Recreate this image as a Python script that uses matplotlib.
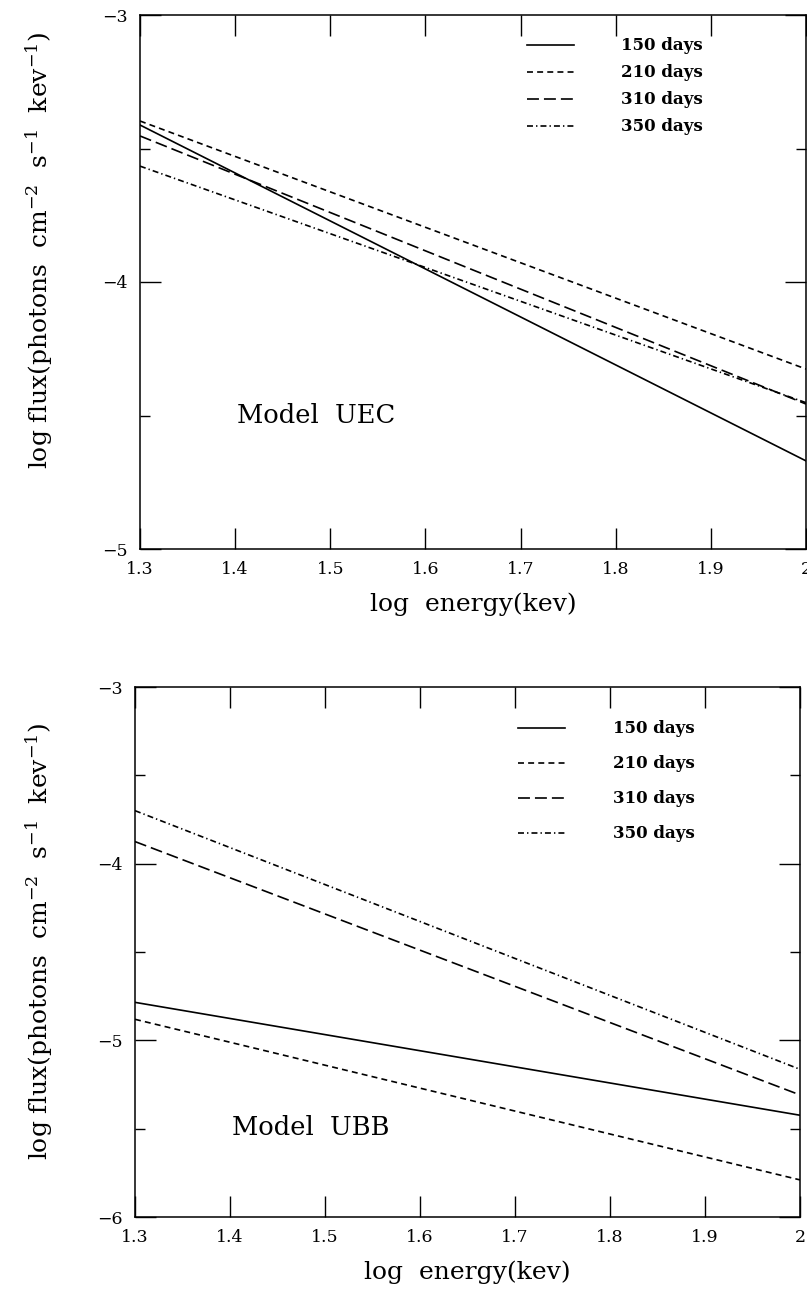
import matplotlib
matplotlib.use("Agg")
import matplotlib.pyplot as plt
from matplotlib.ticker import MultipleLocator, FixedLocator

plt.rcParams['font.family'] = ['DejaVu Serif']
plt.rcParams['mathtext.fontset'] = 'dejavuserif'
plt.rcParams['lines.scale_dashes'] = False
plt.rcParams['axes.unicode_minus'] = True

# data: end points of each spectrum (log E, log flux)
log_e = [1.3, 2.0]
days = ['150 days', '210 days', '310 days', '350 days']

uec_150 = [-3.412, -4.670]
uec_210 = [-3.397, -4.326]
uec_310 = [-3.453, -4.457]
uec_350 = [-3.566, -4.452]

ubb_150 = [-4.785, -5.424]
ubb_210 = [-4.881, -5.790]
ubb_310 = [-3.875, -5.309]
ubb_350 = [-3.700, -5.164]

x_ticks = [1.3, 1.4, 1.5, 1.6, 1.7, 1.8, 1.9, 2.0]
x_labels = ['1.3', '1.4', '1.5', '1.6', '1.7', '1.8', '1.9', '2']

styles = ['-', (0, (4.3, 3.0)), (0, (8.6, 3.6)), (0, (4.3, 2.2, 1.0, 2.2))]

W, H = 807, 1289
fig = plt.figure(figsize=(W / 100, H / 100), dpi=100)
ax1 = fig.add_axes([140 / W, 1 - 549 / H, 666 / W, 534 / H])
ax2 = fig.add_axes([135 / W, 1 - 1217 / H, 665 / W, 530 / H])


def setup(ax, ylo, yhi, model, model_y, series, leg_anchor, leg_space, ylab_pos):
    for ys, ls, lab in zip(series, styles, days):
        ax.plot(log_e, ys, color='black', lw=1.2, linestyle=ls, label=lab)
    ax.set_xlim(1.3, 2.0)
    ax.set_ylim(ylo, yhi)
    ax.xaxis.set_major_locator(FixedLocator(x_ticks))
    ax.set_xticklabels(x_labels)
    ax.yaxis.set_major_locator(MultipleLocator(1))
    ax.yaxis.set_minor_locator(MultipleLocator(0.5))
    ax.tick_params(which='both', direction='in', top=True, right=True,
                   width=1.0, labelsize=12.5, color='black')
    ax.tick_params(which='major', length=15)
    ax.tick_params(which='minor', length=7.5)
    ax.tick_params(axis='x', pad=9)
    ax.tick_params(axis='y', pad=9)
    for sp in ax.spines.values():
        sp.set_linewidth(1.1)
    ax.set_xlabel('log  energy(kev)', fontsize=18, labelpad=10)
    ax.set_ylabel(r'log flux(photons  cm$^{-2}$  s$^{-1}$  kev$^{-1}$)',
                  fontsize=18)
    ax.yaxis.set_label_coords(*ylab_pos)
    ax.text(1.402, model_y, model, fontsize=18.5, va='center', ha='left')
    leg = ax.legend(loc='upper left', bbox_to_anchor=leg_anchor, frameon=False,
                    borderpad=0, borderaxespad=0, handlelength=2.8,
                    handletextpad=2.87, labelspacing=leg_space,
                    prop={'family': 'DejaVu Serif', 'weight': 'bold', 'size': 12})
    return leg


setup(ax1, -5, -3, 'Model  UEC', -4.5, [uec_150, uec_210, uec_310, uec_350],
      (0.581, 0.958), 0.6, (-0.128, 0.56))
setup(ax2, -6, -3, 'Model  UBB', -5.496, [ubb_150, ubb_210, ubb_310, ubb_350],
      (0.576, 0.937), 1.08, (-0.120, 0.52))

fig.savefig('out.png', dpi=100)
